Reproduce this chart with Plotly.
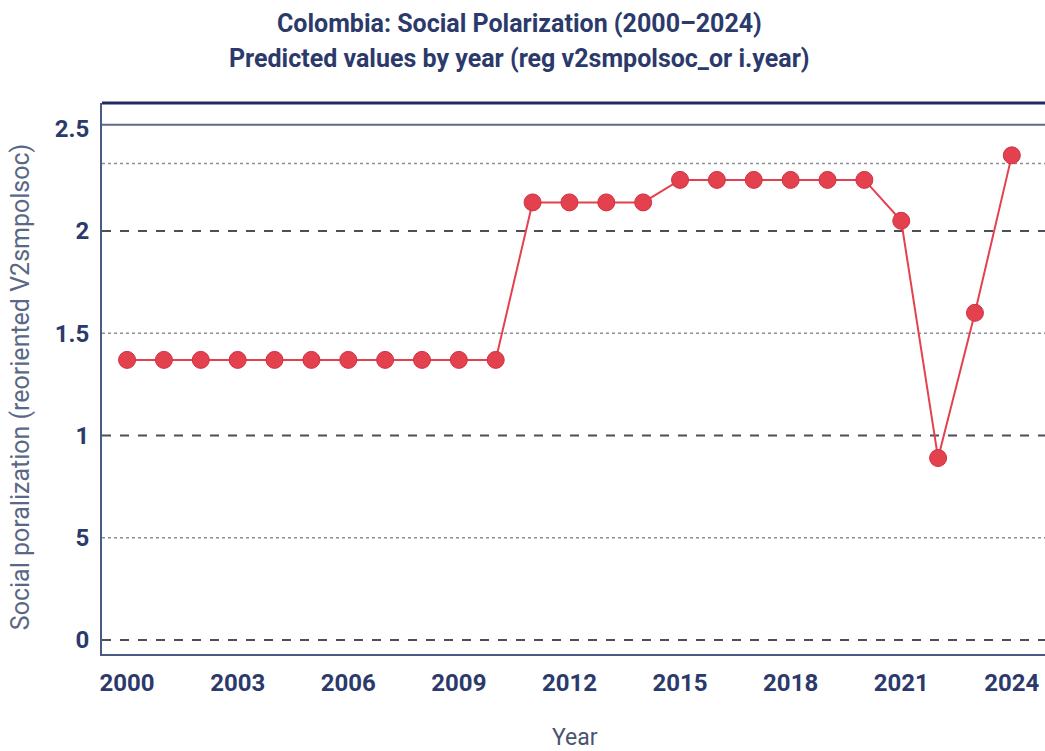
import plotly.graph_objects as go

years = list(range(2000, 2025))
values = [1.37] * 11 + [2.14, 2.14, 2.14, 2.14] + [2.25] * 6 + [2.05, 0.89, 1.60, 2.37]
x_ticks = [2000, 2003, 2006, 2009, 2012, 2015, 2018, 2021, 2024]
y_tick_vals = [0, 0.5, 1, 1.5, 2, 2.5]
y_tick_text = ["0", "5", "1", "1.5", "2", "2.5"]
dashed_levels = [0, 1, 2]
dotted_levels = [0.5, 1.5, 2.33]
title_lines = ["Colombia: Social Polarization (2000–2024)",
               "Predicted values by year (reg v2smpolsoc_or i.year)"]

NAVY = "#2b3a6b"
RED = "#e4414f"

fig = go.Figure()
fig.add_trace(go.Scatter(
    x=years, y=values, mode="lines+markers",
    line=dict(color=RED, width=2),
    marker=dict(color=RED, size=17, line=dict(color="#d03040", width=1)),
    showlegend=False, cliponaxis=False,
))

shapes = []
for v in dashed_levels:
    shapes.append(dict(type="line", xref="paper", yref="y", x0=0, x1=1, y0=v, y1=v,
                       line=dict(color="#4a4f5a", width=2, dash="dash"), layer="below"))
for v in dotted_levels:
    shapes.append(dict(type="line", xref="paper", yref="y", x0=0, x1=1, y0=v, y1=v,
                       line=dict(color="#8a8f99", width=1.5, dash="dot"), layer="below"))
shapes.append(dict(type="line", xref="paper", yref="y", x0=0, x1=1, y0=2.52, y1=2.52,
                   line=dict(color="#5d6a8c", width=2), layer="below"))
shapes.append(dict(type="line", xref="paper", yref="paper", x0=0, x1=1, y0=1, y1=1,
                   line=dict(color="#1f2a66", width=3)))

annotations = [
    dict(text=f"<b>{title_lines[0]}</b>", xref="paper", yref="paper", x=0.443, y=1.145,
         xanchor="center", yanchor="middle", showarrow=False,
         font=dict(family="Roboto", size=25, color=NAVY)),
    dict(text=f"<b>{title_lines[1]}</b>", xref="paper", yref="paper", x=0.443, y=1.080,
         xanchor="center", yanchor="middle", showarrow=False,
         font=dict(family="Roboto", size=25, color=NAVY)),
    dict(text="Social poralization (reoriented V2smpolsoc)", xref="paper", yref="paper",
         x=-0.0865, y=0.485, xanchor="center", yanchor="middle", textangle=-90,
         showarrow=False, font=dict(family="Roboto", size=25, color="#5a6785")),
    dict(text="Year", xref="paper", yref="paper", x=0.502, y=-0.152,
         xanchor="center", yanchor="middle", showarrow=False,
         font=dict(family="Roboto", size=23, color="#4a5470")),
]

fig.update_layout(
    width=1045, height=751,
    paper_bgcolor="white", plot_bgcolor="white",
    margin=dict(l=102, r=0, t=103, b=97),
    shapes=shapes,
    annotations=annotations,
    xaxis=dict(
        range=[1999.32, 2024.9], tickmode="array", tickvals=x_ticks,
        ticktext=[f"<b>{t}</b>" for t in x_ticks],
        showgrid=False, zeroline=False,
        showline=True, linecolor="#4a5a85", linewidth=2,
        ticks="outside", ticklen=6, tickcolor="rgba(0,0,0,0)",
        tickfont=dict(family="Roboto", size=24, color=NAVY),
    ),
    yaxis=dict(
        range=[-0.068, 2.626], tickmode="array", tickvals=y_tick_vals,
        ticktext=[f"<b>{t}</b>" for t in y_tick_text],
        showgrid=False, zeroline=False,
        showline=True, linecolor="#4a5a85", linewidth=2,
        ticks="outside", ticklen=6, tickcolor="rgba(0,0,0,0)",
        tickfont=dict(family="Roboto", size=24, color=NAVY),
    ),
)

fig.write_html("out.html", config={"displayModeBar": False},
               post_script="document.body.style.margin='0';document.body.style.overflow='hidden';")
